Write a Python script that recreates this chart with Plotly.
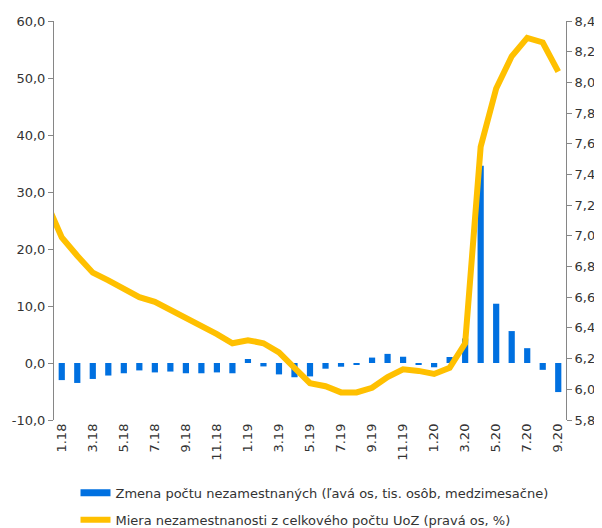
import plotly.graph_objects as go

months = ["1.18", "2.18", "3.18", "4.18", "5.18", "6.18", "7.18", "8.18", "9.18", "10.18", "11.18", "12.18",
          "1.19", "2.19", "3.19", "4.19", "5.19", "6.19", "7.19", "8.19", "9.19", "10.19", "11.19", "12.19",
          "1.20", "2.20", "3.20", "4.20", "5.20", "6.20", "7.20", "8.20", "9.20"]

# change in number of unemployed (thousands, m/m) - left axis
zmena = [-3.0, -3.5, -2.8, -2.2, -1.8, -1.3, -1.65, -1.5, -1.8, -1.8, -1.65, -1.8,
         0.7, -0.6, -2.0, -2.5, -2.35, -1.0, -0.65, -0.25, 0.95, 1.6, 1.1, -0.25,
         -0.75, 1.05, 4.3, 34.6, 10.4, 5.6, 2.6, -1.2, -5.1]

# unemployment rate (%) - right axis; first value is 12.17 (clipped by the axis)
miera_prev = 7.22
miera = [6.99, 6.87, 6.76, 6.71, 6.65, 6.60, 6.57, 6.52, 6.46, 6.41, 6.36, 6.30,
         6.32, 6.30, 6.24, 6.14, 6.04, 6.02, 5.98, 5.98, 6.01, 6.08, 6.13, 6.12,
         6.10, 6.14, 6.30, 7.58, 7.96, 8.17, 8.29, 8.26, 8.07]

# left-axis tick values and labels
left_ticks = [-10, 0, 10, 20, 30, 40, 50, 60]
left_labels = ["-10,0", "0,0", "10,0", "20,0", "30,0", "40,0", "50,0", "60,0"]

name_bar = "Zmena počtu nezamestnaných (ľavá os, tis. osôb, medzimesačne)"
name_line = "Miera nezamestnanosti z celkového počtu UoZ (pravá os, %)"

BLUE = "#0070E0"
GOLD = "#FFC000"
TXT = "#333333"
AX = "#868686"

idx = list(range(len(months)))
line_x = [-1] + idx
line_y = [miera_prev] + miera

fig = go.Figure()
fig.add_trace(go.Bar(x=idx, y=zmena, marker=dict(color=BLUE, line=dict(width=0)),
                     showlegend=False, name=name_bar, xaxis="x", yaxis="y"))
# legend entry for bars (wide rectangle like the original)
fig.add_trace(go.Scatter(x=[None], y=[None], mode="lines", line=dict(color=BLUE, width=7),
                         name=name_bar, legendgroup="a", xaxis="x", yaxis="y"))
fig.add_trace(go.Scatter(x=line_x, y=line_y, mode="lines", line=dict(color=GOLD, width=6),
                         name=name_line, legendgroup="b", xaxis="x", yaxis="y2"))

xr = [-0.5, len(months) - 0.5]
# the page body has an 8px margin, so the figure is 8px smaller than the window
fig.update_layout(
    width=594, height=520,
    margin=dict(l=46, r=36, t=13, b=108, autoexpand=False),
    paper_bgcolor="white", plot_bgcolor="white",
    separators=", ",
    font=dict(family="DejaVu Sans", size=13, color=TXT),
    bargap=0.6,
    showlegend=True,
    legend=dict(orientation="v", x=0.042, xanchor="left", y=-0.145, yanchor="top",
                font=dict(size=13, color=TXT), traceorder="grouped", tracegroupgap=7,
                itemwidth=30, bgcolor="rgba(0,0,0,0)"),
    xaxis=dict(range=xr, tickmode="array", tickvals=idx[::2], ticktext=months[::2],
               tickangle=-90, ticks="", showline=False, showgrid=False, zeroline=False,
               automargin=False, tickfont=dict(size=13, color=TXT)),
    xaxis2=dict(range=xr, overlaying="x", anchor="free", position=10 / 70,
                tickmode="array", tickvals=[i + 0.5 for i in range(1, len(months) - 1, 2)],
                showticklabels=False, ticks="outside", ticklen=5, tickcolor=AX, tickwidth=1,
                showline=True, linecolor=AX, linewidth=1, showgrid=False, zeroline=False,
                automargin=False),
    yaxis=dict(range=[-10, 60], tickmode="array", tickvals=left_ticks, ticktext=left_labels,
               ticks="outside", ticklen=5, tickcolor=AX, showline=True, linecolor=AX,
               linewidth=1, showgrid=False, zeroline=False, automargin=False,
               tickfont=dict(size=13, color=TXT)),
    yaxis2=dict(range=[5.8, 8.4], overlaying="y", side="right", anchor="x",
                tickmode="linear", tick0=5.8, dtick=0.2, tickformat=".1f",
                ticks="outside", ticklen=5, tickcolor=AX, showline=True, linecolor=AX,
                linewidth=1, showgrid=False, zeroline=False, automargin=False,
                tickfont=dict(size=13, color=TXT)),
)

fig.write_html("out.html", config={"displayModeBar": False})
